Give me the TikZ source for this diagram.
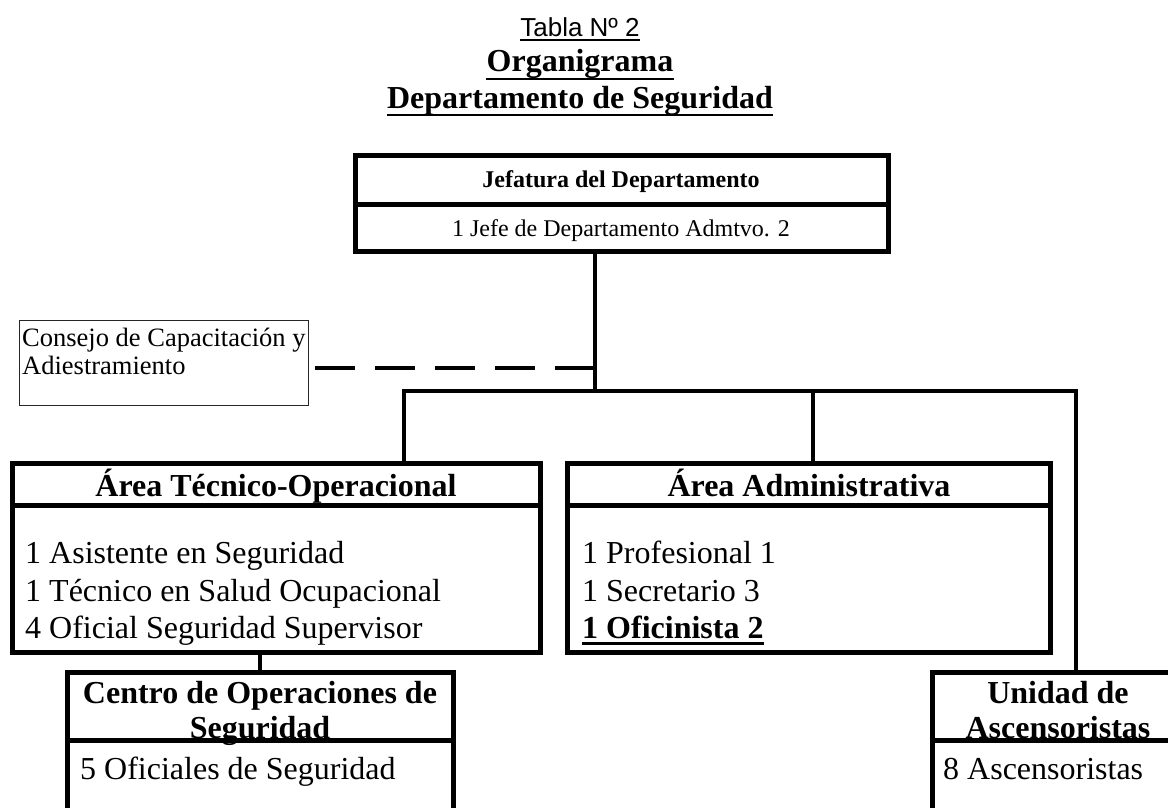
\documentclass[tikz,border=0pt]{standalone}
\usepackage{fontspec}
\setmainfont{Liberation Serif}
\newfontfamily\arialf{Liberation Sans}
\newcommand{\fsz}[1]{\fontsize{#1}{#1}\selectfont}
\begin{document}
\begin{tikzpicture}[x=1pt,y=-1pt,
  boxshape/.style={draw=black,line width=5pt,inner sep=0pt,outer sep=0pt,anchor=north west},
  divline/.style={draw=black,line width=5pt},
  conn/.style={draw=black,line width=4.5pt},
  dashconn/.style={draw=black,line width=4.5pt,dash pattern=on 40pt off 20pt},
  thinbox/.style={draw=black!85,line width=1pt,inner sep=0pt,outer sep=0pt,anchor=north west},
  ttl/.style={inner sep=0pt,anchor=base,font=\fsz{32}\bfseries},
  body/.style={inner sep=0pt,anchor=base west,font=\fsz{32}},
  uline/.style={draw=black,line width=2.5pt}]
\useasboundingbox (0,0) rectangle (1168,808);
\clip (0,0) rectangle (1168,808);

% titles
\node[inner sep=0pt,anchor=base,font=\arialf\fsz{26}] (tabla) at (580,37) {Tabla Nº 2};
\draw[line width=1.5pt] ([yshift=-3pt]tabla.base west) -- ([yshift=-3pt]tabla.base east);
\node[ttl] (org) at (580,72) {Organigrama};
\draw[uline] ([yshift=-7pt]org.base west) -- ([yshift=-7pt]org.base east);
\node[ttl] (dep) at (580,108) {Departamento de Seguridad};
\draw[uline] ([yshift=-7pt]dep.base west) -- ([yshift=-7pt]dep.base east);

% boxes
\node[boxshape,minimum width=533pt,minimum height=96pt] (jef) at (355,155) {};
\draw[divline] (355,204) -- (888,204);
\node[inner sep=0pt,anchor=base,font=\fsz{24}\bfseries] (jeft) at (621,187) {Jefatura del Departamento};
\node[inner sep=0pt,anchor=base,font=\fsz{24}] (jefb) at (621,236) {1 Jefe de Departamento Admtvo. 2};

\node[thinbox,minimum width=289pt,minimum height=85pt] (con) at (19,320) {};
\node[inner sep=0pt,anchor=base west,font=\fsz{26.5}] (con1) at (22,346) {Consejo de Capacitación y};
\node[inner sep=0pt,anchor=base west,font=\fsz{26.5}] (con2) at (22,374) {Adiestramiento};

\node[boxshape,minimum width=528pt,minimum height=189pt] (tec) at (12,463) {};
\draw[divline] (12,505) -- (540,505);
\node[ttl] (tect) at (276,496) {Área Técnico-Operacional};
\node[body] (tec1) at (25,563) {1 Asistente en Seguridad};
\node[body] (tec2) at (25,601) {1 Técnico en Salud Ocupacional};
\node[body] (tec3) at (25,638) {4 Oficial Seguridad Supervisor};

\node[boxshape,minimum width=483pt,minimum height=189pt] (adm) at (567,463) {};
\draw[divline] (567,505) -- (1050,505);
\node[ttl] (admt) at (809,496) {Área Administrativa};
\node[body] (adm1) at (582,563) {1 Profesional 1};
\node[body] (adm2) at (582,601) {1 Secretario 3};
\node[body,font=\fsz{32}\bfseries] (adm3) at (582,638) {1 Oficinista 2};
\draw[line width=3pt] ([yshift=-5pt]adm3.base west) -- ([yshift=-5pt]adm3.base east);

\node[boxshape,minimum width=386pt,minimum height=200pt] (cen) at (67,672) {};
\draw[divline] (67,740) -- (453,740);
\node[ttl] (cent1) at (260,703) {Centro de Operaciones de};
\node[ttl] (cent2) at (260,738) {Seguridad};
\node[body] (cenb) at (80,779) {5 Oficiales de Seguridad};

\node[boxshape,minimum width=260pt,minimum height=200pt] (uni) at (932,672) {};
\draw[divline] (932,740) -- (1192,740);
\node[ttl] (unit1) at (1058,703) {Unidad de};
\node[ttl] (unit2) at (1058,738) {Ascensoristas};
\node[body] (unib) at (943,779) {8 Ascensoristas};

% connectors
\coordinate (hub) at (595,391);
\coordinate (hl) at (404,391);
\coordinate (hm) at (813,391);
\coordinate (hr) at (1076,391);
\coordinate (dj) at (595,368);
\coordinate (tc) at (260,652);
\draw[conn] (jef.south -| hub) -- (hub);
\draw[conn] (tec.north -| hl) -- (hl) -- (hr) -- (uni.north -| hr);
\draw[conn] (hm) -- (adm.north -| hm);
\draw[dashconn] (dj) -- (con.east |- dj);
\draw[conn] (tec.south -| tc) -- (cen.north -| tc);
\end{tikzpicture}
\end{document}
